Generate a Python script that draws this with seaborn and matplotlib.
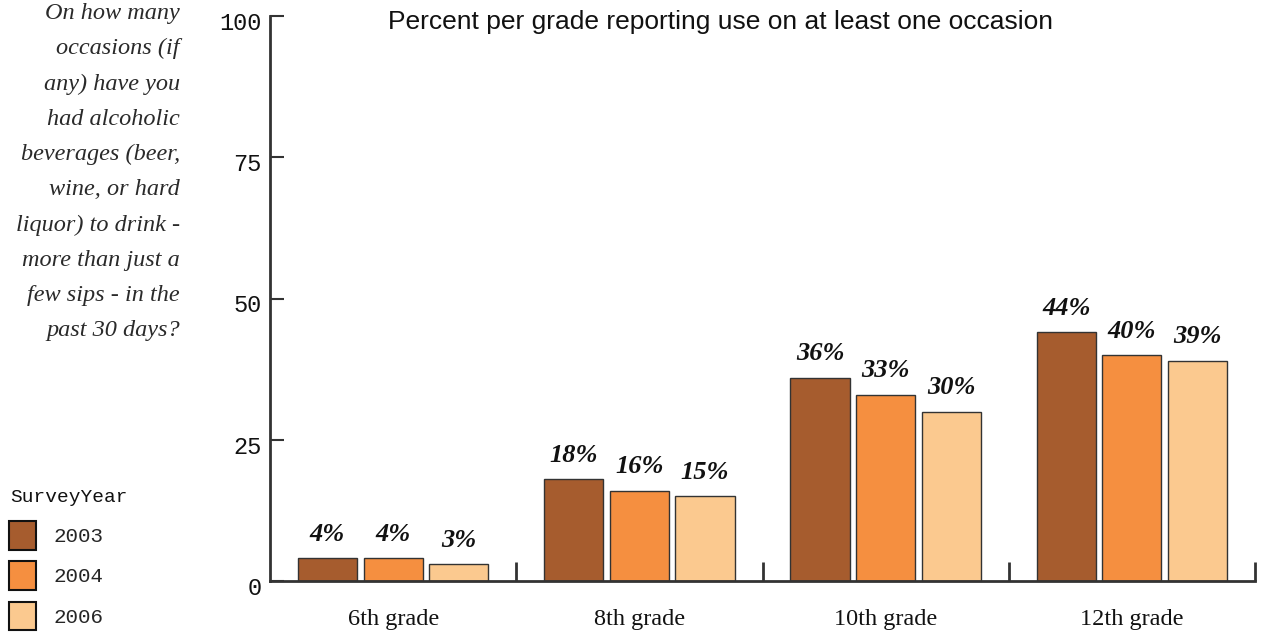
import matplotlib
matplotlib.use("Agg")
import matplotlib.pyplot as plt
import matplotlib.transforms as mtransforms
import seaborn as sns
import pandas as pd

grades = ["6th grade", "8th grade", "10th grade", "12th grade"]
years = ["2003", "2004", "2006"]
pct_2003 = [4, 18, 36, 44]
pct_2004 = [4, 16, 33, 40]
pct_2006 = [3, 15, 30, 39]
colors = ["#A65C2E", "#F58F40", "#FBC98F"]
yticks = [0, 25, 50, 75, 100]
title = "Percent per grade reporting use on at least one occasion"
legend_title = "SurveyYear"
question = ("On how many\noccasions (if\nany) have you\nhad alcoholic\nbeverages (beer,\n"
            "wine, or hard\nliquor) to drink -\nmore than just a\nfew sips - in the\npast 30 days?")

rows = []
for yr, vals in zip(years, [pct_2003, pct_2004, pct_2006]):
    for g, v in zip(grades, vals):
        rows.append({"grade": g, "year": yr, "pct": v})
df = pd.DataFrame(rows)

sns.set_style("white")
fig = plt.figure(figsize=(12.62, 6.41), dpi=100)
ax = fig.add_axes([270/1262, 1-581/641, (1255-270)/1262, (581-16)/641])

sns.barplot(data=df, x="grade", y="pct", hue="year", order=grades, hue_order=years,
            palette=colors, saturation=1, width=0.8, gap=0.1, edgecolor="#333333", linewidth=1,
            legend=False, ax=ax, errorbar=None)

for cont in ax.containers:
    ax.bar_label(cont, labels=[f"{v:g}%" for v in cont.datavalues], padding=9,
                 fontsize=19, fontstyle="italic", fontweight="bold",
                 family="Liberation Serif", color="#111111")

ax.set_xlim(-0.5, 3.5)
ax.set_ylim(0, 100)
ax.set_xlabel("")
ax.set_ylabel("")
for s in ["top", "right"]:
    ax.spines[s].set_visible(False)
for s in ["left", "bottom"]:
    ax.spines[s].set_color("#333333")
    ax.spines[s].set_linewidth(2)

ax.set_yticks(yticks)
ax.set_yticklabels([str(t) for t in yticks], family="Liberation Mono", fontsize=17, color="#111111")
ax.tick_params(axis="y", direction="in", length=10, width=1.5, color="#333333", pad=6, left=True)
offset = mtransforms.ScaledTranslation(0, -5/100, fig.dpi_scale_trans)
for lab in ax.get_yticklabels():
    lab.set_transform(lab.get_transform() + offset)

ax.set_xticks(range(len(grades)))
ax.set_xticklabels(grades, family="Liberation Serif", fontsize=17.5, color="#111111")
ax.tick_params(axis="x", which="major", length=0, pad=20)
ax.set_xticks([0.5, 1.5, 2.5, 3.5], minor=True)
ax.tick_params(axis="x", which="minor", direction="in", length=14, width=2, color="#333333", bottom=True)

fig.text(720/1262, 1-22/641, title, ha="center", va="center", fontsize=19,
         family="Liberation Sans", color="#111111")
fig.text(180/1262, 1-3/641, question, ha="right", va="top", fontsize=17.5,
         family="Liberation Serif", fontstyle="italic", color="#2a2a2a",
         linespacing=1.88, multialignment="right")

fig.text(10/1262, 1-497/641, legend_title, ha="left", va="center", fontsize=14,
         family="Liberation Mono", color="#111111")
handles = [plt.Rectangle((0, 0), 1, 1, facecolor=c, edgecolor="#111111", linewidth=1.5) for c in colors]
leg = fig.legend(handles, years, loc="upper left",
                 bbox_to_anchor=(9/1262, 1-521/641), frameon=False,
                 prop={"family": "Liberation Mono", "size": 15},
                 handlelength=1.3, handleheight=1.75, labelspacing=0.55,
                 handletextpad=0.85, borderpad=0, borderaxespad=0)

fig.savefig("out.png", dpi=100)
